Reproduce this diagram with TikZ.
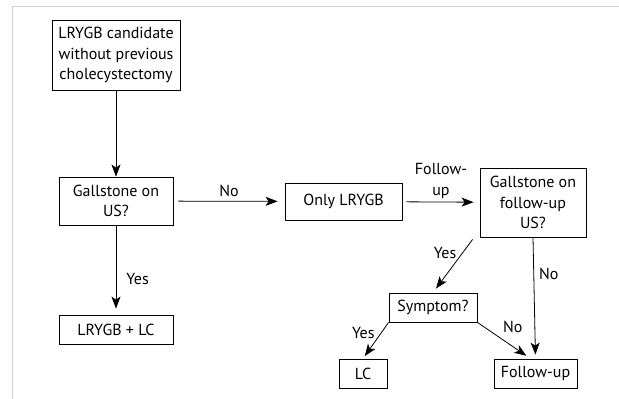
\documentclass[tikz,border=0pt]{standalone}
\usepackage{fontspec}
\setmainfont{PT Sans}
\usetikzlibrary{arrows.meta}

\begin{document}
\begin{tikzpicture}[x=1pt, y=-1pt,
  flowbox/.style = {draw=black, line width=0.8pt, align=center, inner sep=2pt, font=\fontsize{16}{20.5}\selectfont},
  flowarrow/.style = {draw=black, line width=0.8pt, -{Stealth[length=12pt,width=9pt,inset=3pt]}},
  flowlabel/.style = {font=\fontsize{16}{20.5}\selectfont, inner sep=2pt, align=center}]
\useasboundingbox (0,0) rectangle (619,399);
\draw[black!18, line width=1.2pt] (12.5,399) -- (12.5,6.5) -- (619,6.5);
% boxes
\node[flowbox, minimum width=128pt, minimum height=70pt] (cand) at (116,55) {LRYGB candidate\\without previous\\cholecystectomy};
\node[flowbox, minimum width=114pt, minimum height=48pt] (us) at (116,201) {Gallstone on\\US?};
\node[flowbox, minimum width=114pt, minimum height=29pt] (both) at (116,329.5) {LRYGB + LC};
\node[flowbox, minimum width=117pt, minimum height=37pt] (only) at (343.5,201.5) {Only LRYGB};
\node[flowbox, minimum width=106pt, minimum height=69pt] (fus) at (533,202.5) {Gallstone on\\follow-up\\US?};
\node[flowbox, minimum width=88pt, minimum height=29pt] (symp) at (433,307.5) {Symptom?};
\node[flowbox, minimum width=48pt, minimum height=29pt] (lc) at (363,373.5) {LC};
\node[flowbox, minimum width=83pt, minimum height=29pt] (fu) at (535.5,373.5) {Follow-up};
% connectors
\draw[flowarrow] (cand) -- (us);
\draw[flowarrow, shorten >=6pt] (us) -- node[flowlabel, pos=0.6, right=8pt] {Yes} (both);
\draw[flowarrow, shorten <=5pt, shorten >=7pt] (us) -- node[flowlabel, above=2pt] {No} (only);
\draw[flowarrow, shorten <=4pt, shorten >=6pt] (only) -- node[flowlabel, above=1pt] {Follow-\\up} (fus);
\draw[flowarrow, shorten >=5pt] ([xshift=-7pt,yshift=-2pt]fus.south west) -- node[flowlabel, pos=0.25, left=4pt] {Yes} (symp.north);
\draw[flowarrow, shorten >=4pt] (fus.south) -- node[flowlabel, pos=0.3, right=3pt] {No} (fu.north);
\draw[flowarrow, shorten >=3pt] (symp.south west) -- node[flowlabel, pos=0.3, left=4pt] {Yes} (lc.north);
\draw[flowarrow, shorten >=5pt] (symp.south east) -- node[flowlabel, pos=0.4, above right=2pt] {No} ([xshift=-5pt]fu.north);
\end{tikzpicture}
\end{document}
